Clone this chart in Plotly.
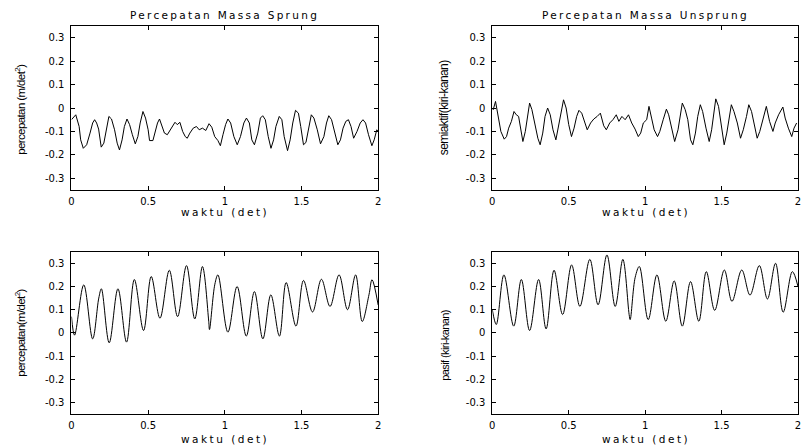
import plotly.graph_objects as go

# ---------------- data (time in s, value) ----------------
sprung_semiaktif_t = [0.0,0.028,0.05,0.06,0.077,0.099,0.121,0.138,0.151,0.164,0.177,0.194,0.211,0.229,0.244,0.261,0.281,0.298,0.313,0.33,
    0.345,0.362,0.379,0.397,0.416,0.433,0.448,0.466,0.483,0.5,0.509,0.531,0.546,0.561,0.574,0.589,0.606,0.625,0.643,0.66,
    0.675,0.69,0.707,0.725,0.742,0.755,0.772,0.794,0.815,0.833,0.854,0.876,0.897,0.915,0.934,0.955,0.971,0.988,1.005,1.02,
    1.038,1.059,1.081,1.102,1.124,1.141,1.16,1.176,1.193,1.215,1.232,1.247,1.264,1.283,1.301,1.318,1.333,1.355,1.372,1.387,
    1.409,1.426,1.443,1.461,1.48,1.495,1.513,1.529,1.549,1.564,1.581,1.603,1.624,1.646,1.663,1.678,1.696,1.715,1.737,1.754,
    1.771,1.789,1.806,1.823,1.84,1.862,1.883,1.901,1.918,1.937,1.959,1.974,1.991,2.0]
sprung_semiaktif_y = [-0.05,-0.029,-0.079,-0.136,-0.172,-0.157,-0.107,-0.064,-0.05,-0.064,-0.09,-0.167,-0.15,-0.086,-0.036,-0.047,-0.093,-0.15,-0.179,-0.136,
    -0.079,-0.047,-0.071,-0.114,-0.153,-0.122,-0.064,-0.015,-0.043,-0.093,-0.139,-0.139,-0.1,-0.064,-0.047,-0.079,-0.107,-0.114,-0.093,-0.079,
    -0.061,-0.071,-0.061,-0.1,-0.122,-0.129,-0.107,-0.086,-0.079,-0.093,-0.086,-0.096,-0.067,-0.082,-0.122,-0.139,-0.161,-0.114,-0.071,-0.047,
    -0.064,-0.122,-0.157,-0.122,-0.064,-0.043,-0.064,-0.136,-0.157,-0.107,-0.043,-0.033,-0.05,-0.122,-0.172,-0.136,-0.079,-0.036,-0.05,-0.122,
    -0.182,-0.136,-0.064,-0.01,-0.022,-0.079,-0.157,-0.147,-0.079,-0.029,-0.043,-0.093,-0.153,-0.122,-0.064,-0.033,-0.05,-0.1,-0.157,-0.136,
    -0.086,-0.057,-0.05,-0.079,-0.129,-0.1,-0.064,-0.05,-0.064,-0.114,-0.161,-0.136,-0.093,-0.1]

unsprung_semiaktif_t = [0.0,0.006,0.021,0.039,0.056,0.078,0.093,0.107,0.125,0.142,0.157,0.172,0.19,0.2,0.216,0.229,0.244,0.259,0.276,0.298,
    0.313,0.33,0.345,0.362,0.379,0.397,0.416,0.431,0.448,0.466,0.483,0.5,0.518,0.535,0.552,0.567,0.585,0.604,0.621,0.643,
    0.664,0.686,0.707,0.729,0.746,0.768,0.789,0.811,0.828,0.848,0.869,0.891,0.912,0.934,0.955,0.971,0.988,1.01,1.025,1.042,
    1.059,1.081,1.096,1.118,1.139,1.154,1.176,1.193,1.215,1.232,1.243,1.262,1.279,1.297,1.312,1.329,1.344,1.361,1.376,1.398,
    1.419,1.435,1.452,1.462,1.48,1.499,1.517,1.534,1.549,1.564,1.581,1.603,1.624,1.642,1.663,1.678,1.696,1.711,1.733,1.75,
    1.771,1.793,1.814,1.836,1.851,1.873,1.901,1.916,1.937,1.959,1.974,1.991]
unsprung_semiaktif_y = [0.0,-0.007,0.028,-0.043,-0.1,-0.133,-0.122,-0.086,-0.057,-0.015,-0.029,-0.036,-0.1,-0.143,-0.1,-0.036,0.021,-0.007,-0.064,-0.129,
    -0.157,-0.107,-0.036,0.0,-0.029,-0.093,-0.136,-0.086,-0.022,0.035,0.0,-0.071,-0.122,-0.086,-0.036,-0.01,-0.022,-0.064,-0.093,-0.064,
    -0.047,-0.036,-0.022,-0.076,-0.093,-0.064,-0.05,-0.029,-0.057,-0.036,-0.05,-0.029,-0.064,-0.09,-0.122,-0.107,-0.064,-0.05,0.007,-0.043,
    -0.093,-0.122,-0.1,-0.05,-0.005,-0.029,-0.1,-0.143,-0.093,-0.022,0.021,-0.007,-0.05,-0.136,-0.157,-0.107,-0.036,0.014,-0.015,-0.086,
    -0.143,-0.093,-0.007,0.039,0.007,-0.086,-0.157,-0.107,-0.036,0.014,-0.015,-0.064,-0.129,-0.093,-0.036,0.014,-0.015,-0.064,-0.129,-0.1,
    -0.043,0.007,-0.057,-0.1,-0.064,-0.029,0.004,-0.043,-0.086,-0.122,-0.086,-0.064]

sprung_pasif_t = [0.0,0.02,0.08,0.138,0.178,0.195,0.246,0.303,0.359,0.41,0.47,0.52,0.577,0.638,0.692,0.75,0.804,0.854,0.895,0.9,
    0.935,0.955,1.02,1.08,1.14,1.193,1.248,1.3,1.356,1.4,1.464,1.513,1.572,1.63,1.686,1.745,1.8,1.853,1.896,1.94,1.96,2.0]
sprung_pasif_y = [0.07,-0.01,0.207,-0.026,0.15,0.19,-0.043,0.19,-0.04,0.23,0.01,0.243,0.063,0.27,0.07,0.29,0.06,0.286,0.05,0.014,
    0.21,0.25,0.003,0.2,-0.014,0.178,-0.026,0.164,-0.014,0.217,0.029,0.226,0.09,0.231,0.114,0.25,0.1,0.25,0.049,0.164,0.229,0.12]

unsprung_pasif_t = [0.0,0.026,0.076,0.14,0.19,0.244,0.303,0.352,0.404,0.46,0.519,0.573,0.638,0.692,0.75,0.804,0.854,0.895,0.902,0.935,
    0.962,1.02,1.077,1.135,1.19,1.243,1.297,1.351,1.4,1.455,1.518,1.568,1.632,1.686,1.747,1.8,1.853,1.903,1.963,2.0]
unsprung_pasif_y = [0.1,0.036,0.25,0.029,0.23,0.01,0.23,0.017,0.27,0.079,0.293,0.114,0.317,0.121,0.336,0.114,0.317,0.08,0.057,0.24,
    0.286,0.057,0.25,0.05,0.224,0.029,0.221,0.05,0.264,0.097,0.271,0.136,0.271,0.163,0.29,0.146,0.3,0.089,0.264,0.2]

x_ticks = [0, 0.5, 1, 1.5, 2]
x_tick_text = ["0", "0.5", "1", "1.5", "2"]
y_ticks = [-0.3, -0.2, -0.1, 0, 0.1, 0.2, 0.3]
y_tick_text = ["-0.3", "-0.2", "-0.1", "0", "0.1", "0.2", "0.3"]

titles = ["Percepatan Massa Sprung", "Percepatan Massa Unsprung"]
y_labels = ["percepatan (m/det<sup>2</sup>)", "semiaktif(kiri-kanan)",
            "percepatan(m/det<sup>2</sup>)", "pasif (kiri-kanan)"]
x_label = "waktu (det)"

# ---------------- figure ----------------
W, H = 801, 446
fig = go.Figure()
series = [(sprung_semiaktif_t, sprung_semiaktif_y, "linear"),
          (unsprung_semiaktif_t, unsprung_semiaktif_y, "linear"),
          (sprung_pasif_t, sprung_pasif_y, "spline"),
          (unsprung_pasif_t, unsprung_pasif_y, "spline")]
for i, (t, y, shape) in enumerate(series):
    sfx = "" if i == 0 else str(i + 1)
    fig.add_trace(go.Scatter(x=t, y=y, mode="lines", xaxis="x" + sfx, yaxis="y" + sfx,
                             line=dict(color="black", width=1, shape=shape, smoothing=1.0),
                             showlegend=False, hoverinfo="skip", cliponaxis=True))

left_x = [(69 / W, 378 / W), (493 / W, 1.0)]
top_y = [(1 - 190 / H, 1 - 26 / H), (1 - 414 / H, 1 - 251.7 / H)]
tickfont = dict(family="DejaVu Sans, Liberation Sans, Arial", size=10, color="black")

axes = {}
for i in range(4):
    col, row = i % 2, i // 2
    sfx = "" if i == 0 else str(i + 1)
    axes["xaxis" + sfx] = dict(domain=list(left_x[col]), range=[0, 2], anchor="y" + sfx,
        tickvals=x_ticks, ticktext=x_tick_text, ticks="inside", ticklen=4, tickcolor="black",
        showline=True, linecolor="black", linewidth=1, mirror="ticks", showgrid=False,
        zeroline=False, tickfont=tickfont, ticklabelstandoff=2, ticklabeloverflow="allow")
    axes["yaxis" + sfx] = dict(domain=list(top_y[row]), range=[-0.35, 0.35], anchor="x" + sfx,
        tickvals=y_ticks, ticktext=y_tick_text, ticks="inside", ticklen=4, tickcolor="black",
        showline=True, linecolor="black", linewidth=1, mirror="ticks", showgrid=False,
        zeroline=False, tickfont=tickfont, ticklabelstandoff=4)

annotations = []
# titles
for col, ttl in enumerate(titles):
    cx = (left_x[col][0] + (378 / W if col == 0 else 802 / W)) / 2
    annotations.append(dict(text='<span style="letter-spacing:2.3px">' + ttl + '</span>',
        x=cx, y=1 - 15 / H, xref="paper", yref="paper", xanchor="center", yanchor="middle",
        showarrow=False, font=dict(family="DejaVu Sans, Arial", size=10.5, color="black")))
# x labels
for col in range(2):
    cx = (left_x[col][0] + (378 / W if col == 0 else 802 / W)) / 2
    for yl in (212, 439):
        annotations.append(dict(text='<span style="letter-spacing:2.5px">' + x_label + '</span>',
            x=cx, y=1 - yl / H, xref="paper", yref="paper", xanchor="center", yanchor="middle",
            showarrow=False, font=dict(family="DejaVu Sans, Arial", size=10.5, color="black")))
# y labels
ylab_pos = [(17, 109, 11.5), (445, 107.5, 12), (17, 333, 11.5), (445, 345, 11)]
for (px, py, fs), lab in zip(ylab_pos, y_labels):
    annotations.append(dict(text='<span style="letter-spacing:-0.6px">' + lab + '</span>',
        x=px / W, y=1 - py / H, xref="paper", yref="paper",
        xanchor="center", yanchor="middle", textangle=-90, showarrow=False,
        font=dict(family="Liberation Sans, Arial", size=fs, color="black")))

fig.update_layout(width=W, height=H, margin=dict(l=0, r=0, t=0, b=0),
                  paper_bgcolor="white", plot_bgcolor="white",
                  annotations=annotations, **axes)

fig.write_html("out.html", config={"displayModeBar": False},
               post_script="document.body.style.margin='0';document.body.style.overflow='hidden';")
